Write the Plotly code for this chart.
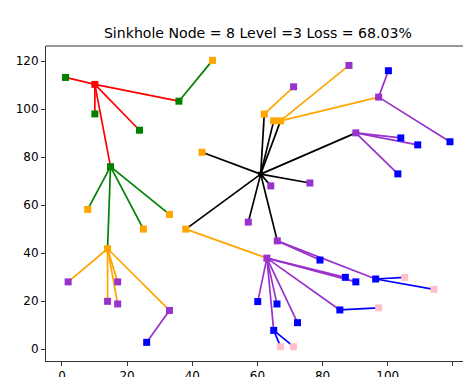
import plotly.graph_objects as go

# Node positions and levels (level index -> colour)
node_x = [61.0, 10.1, 1.1, 10.1, 23.8, 35.9, 14.9,
          46.2, 7.9, 25.0, 33.0, 14.0, 62.1, 65.0, 67.1, 43.0, 38.0,
          1.9, 14.0, 17.1, 17.1, 33.0, 71.1, 88.1, 97.2, 90.2, 64.1, 76.1, 57.2, 66.1, 62.9,
          26.0, 100.2, 119.1, 104.0, 109.2, 103.1, 79.2, 87.0, 90.2, 96.3, 60.1, 66.0, 72.3, 65.0, 85.3,
          105.2, 114.2, 97.2, 67.1, 71.1]
node_y = [72.9, 110.3, 113.2, 98.0, 91.2, 103.3, 76.0,
          120.3, 58.2, 50.0, 56.1, 41.8, 97.9, 95.1, 95.1, 82.0, 50.0,
          28.0, 19.9, 28.0, 18.8, 16.1, 109.3, 118.2, 105.0, 90.1, 68.0, 69.2, 52.9, 45.1, 37.9,
          2.8, 116.0, 86.4, 88.0, 85.1, 73.0, 37.1, 29.9, 28.0, 29.2, 19.8, 18.8, 11.0, 7.8, 16.3,
          29.9, 24.9, 17.2, 1.0, 1.0]
node_level = [0, 1, 2, 2, 2, 2, 2,
              3, 3, 3, 3, 3, 3, 3, 3, 3, 3,
              4, 4, 4, 4, 4, 4, 4, 4, 4, 4, 4, 4, 4, 4,
              5, 5, 5, 5, 5, 5, 5, 5, 5, 5, 5, 5, 5, 5, 5,
              6, 6, 6, 6, 6]
level_colors = ["black", "red", "green", "orange", "darkorchid", "blue", "pink"]

# Edges (source -> destination)
edge_src = [1, 1, 1, 1, 1,
            5, 6, 6, 6, 6,
            11, 11, 11, 11, 11, 12, 14, 14, 16,
            0, 0, 0, 0, 0, 0, 0, 0, 0, 0,
            21, 24, 24, 25, 25, 25, 29, 29, 30, 30, 30, 30, 30, 30, 30,
            40, 40, 45, 44, 44]
edge_dst = [2, 3, 4, 5, 6,
            7, 8, 9, 10, 11,
            17, 18, 19, 20, 21, 22, 23, 24, 30,
            12, 13, 14, 15, 16, 25, 26, 27, 28, 29,
            31, 32, 33, 34, 35, 36, 37, 40, 38, 39, 41, 42, 43, 44, 45,
            46, 47, 48, 49, 50]

title_text = "Sinkhole Node = 8 Level =3 Loss = 68.03%"
x_ticks = [0, 20, 40, 60, 80, 100, 120]
y_ticks = [0, 20, 40, 60, 80, 100, 120]

fig = go.Figure()

# edges grouped by colour of the source node
for lvl, col in enumerate(level_colors):
    xs, ys = [], []
    for s, d in zip(edge_src, edge_dst):
        if node_level[s] == lvl:
            xs += [node_x[s], node_x[d], None]
            ys += [node_y[s], node_y[d], None]
    if xs:
        fig.add_trace(go.Scatter(x=xs, y=ys, mode="lines",
                                 line=dict(color=col, width=1.7),
                                 hoverinfo="skip", showlegend=False))

# nodes
for lvl, col in enumerate(level_colors):
    xs = [x for x, l in zip(node_x, node_level) if l == lvl]
    ys = [y for y, l in zip(node_y, node_level) if l == lvl]
    fig.add_trace(go.Scatter(x=xs, y=ys, mode="markers",
                             marker=dict(symbol="square", color=col,
                                         size=5 if lvl == 0 else 7,
                                         line=dict(width=0)),
                             showlegend=False))

axis_common = dict(showgrid=False, zeroline=False, showline=True, automargin=False,
                   linecolor="#333333", linewidth=1, ticks="outside",
                   ticklen=4, tickwidth=1, tickcolor="#333333",
                   tickfont=dict(family="DejaVu Sans", size=12, color="black"))

fig.update_layout(
    width=463, height=377,
    margin=dict(l=46, r=0, t=46, b=16, autoexpand=False),
    plot_bgcolor="white", paper_bgcolor="white",
    title=dict(text=title_text, x=0.557, xanchor="center", y=0.912, yanchor="middle",
               font=dict(family="DejaVu Sans", size=14.1, color="black")),
    xaxis=dict(range=[-4.9, 123.1], tickvals=x_ticks, **axis_common),
    yaxis=dict(range=[-4.97, 126.3], tickvals=y_ticks, **axis_common),
    shapes=[dict(type="line", xref="paper", yref="paper", x0=0, x1=1, y0=1, y1=1,
                 line=dict(color="#333333", width=1))],
)

fig.write_html("out.html")
